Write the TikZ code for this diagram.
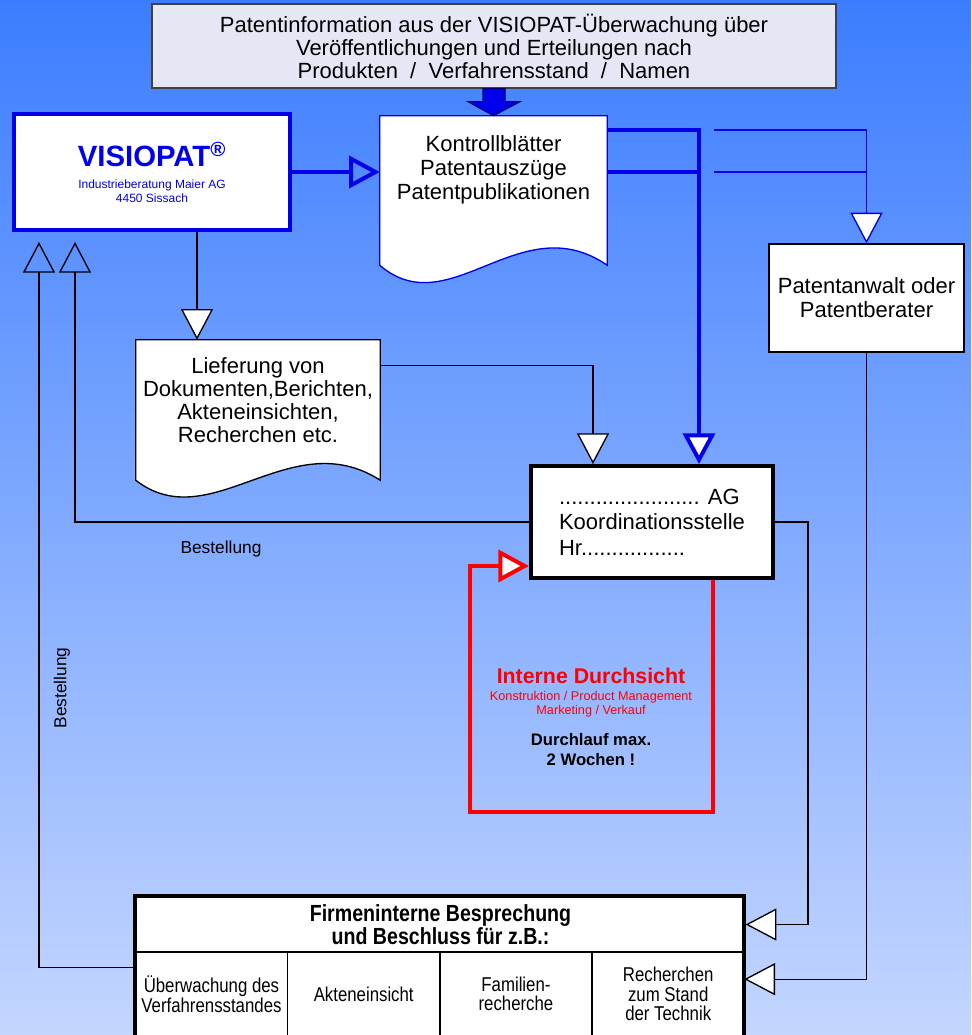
\documentclass[tikz,border=0pt]{standalone}
\usepackage{fontspec}
\setmainfont{Liberation Sans}
\newfontfamily\narrowfont[FakeStretch=0.84]{Liberation Sans}
\usetikzlibrary{arrows.meta,calc,positioning}

\definecolor{skytop}{RGB}{60,125,255}
\definecolor{skybottom}{RGB}{196,214,255}
\definecolor{visioblue}{RGB}{0,0,235}
\definecolor{infofill}{RGB}{230,231,244}
\definecolor{alarmred}{RGB}{255,0,0}

\tikzset{
  wh/.style 2 args={minimum width=#1*0.75pt, minimum height=#2*0.75pt},
  txt/.style={font=\fontsize{16.5}{18}\selectfont, align=center, inner sep=0pt},
  plainbox/.style={draw, fill=white, line width=1pt, inner sep=0pt},
  paper/.style={draw, fill=white, line width=1pt},
}

\begin{document}
\begin{tikzpicture}
  [x=0.75pt,y=-0.75pt,
   thin line/.style={line width=1pt},
   thick blue/.style={line width=3pt, visioblue},
   open head/.style={-{Triangle[open,length=23pt,width=24pt]}},
   white head/.style={-{Triangle[fill=white,length=23pt,width=24pt]}}]
  \useasboundingbox (0,0) rectangle (971,1035);
  \shade[top color=skytop, bottom color=skybottom] (0,0) rectangle (971,1035);

  % boxes
  \node[plainbox, txt, fill=infofill, draw=black!75, wh={684}{84},
        font=\fontsize{16.5}{17.25}\selectfont] (info) at (494,46)
    {Patentinformation aus der VISIOPAT-Überwachung über\\
     Veröffentlichungen und Erteilungen nach\\
     Produkten~~/~~Verfahrensstand~~/~~Namen};
  \node[plainbox, draw=visioblue, line width=3pt, align=center, wh={276}{116},
        text=visioblue, font=\fontsize{9}{10.5}\selectfont] (visio) at (152,172)
    {{\fontsize{22}{22}\selectfont\bfseries VISIOPAT\textsuperscript{\textregistered}}\\[6pt]
     Industrieberatung Maier AG\\4450 Sissach};

  \node[wh={227}{149}] (kontroll) at (493.5,190.5) {};
  \draw[paper, draw=visioblue] (kontroll.south west) -- (kontroll.north west)
    -- (kontroll.north east) -- (kontroll.south east)
    .. controls +(-87,-60) and +(70,60) .. (kontroll.south west) -- cycle;
  \node[txt, below=15pt of kontroll.north] (kontrolltext)
    {Kontrollblätter\\Patentauszüge\\Patentpublikationen};

  \node[plainbox, txt, wh={195}{108}] (anwalt) at (866.5,298)
    {Patentanwalt oder\\Patentberater};

  \node[wh={244}{140}] (liefer) at (258,410) {};
  \draw[paper] (liefer.south west) -- (liefer.north west)
    -- (liefer.north east) -- (liefer.south east)
    .. controls +(-90,-58) and +(75,58) .. (liefer.south west) -- cycle;
  \node[txt, font=\fontsize{16.5}{17.25}\selectfont, below=13pt of liefer.north] (liefertext)
    {Lieferung von\\Dokumenten,Berichten,\\Akteneinsichten,\\Recherchen etc.};

  \node[plainbox, txt, align=left, line width=3pt, wh={242}{112},
        font=\fontsize{16.5}{19}\selectfont] (ag) at (652,522)
    {....................... AG\\Koordinationsstelle\\Hr.................};

  % Firmeninterne Besprechung
  \node[plainbox, txt, wh={609}{55}, font=\narrowfont\bfseries\fontsize{17.5}{15.75}\selectfont]
    (firm) at (440.5,924.5) {Firmeninterne Besprechung\\und Beschluss für z.B.:};
  \tikzset{cell/.style={plainbox, txt, outer sep=0pt, wh={152.25}{83},
           font=\narrowfont\fontsize{15}{14.5}\selectfont}}
  \node[cell, anchor=north west] (c1) at (firm.south west) {Überwachung des\\Verfahrensstandes};
  \node[cell, right=0pt of c1] (c2) {Akteneinsicht};
  \node[cell, right=0pt of c2] (c3) {Familien-\\recherche};
  \node[cell, right=0pt of c3] (c4) {Recherchen\\zum Stand\\der Technik};
  \draw[line width=3pt] (firm.north west) rectangle ($(c4.south east)+(0,8)$);

  % blue flow
  \filldraw[fill=visioblue, draw=blue!40!black, line width=0.8pt]
    ($(info.south)+(-11,0)$) -- ($(info.south)+(-11,13)$) -- ($(info.south)+(-26,13)$)
    -- (kontroll.north) -- ($(info.south)+(26,13)$) -- ($(info.south)+(11,13)$)
    -- ($(info.south)+(11,0)$) -- cycle;
  \draw[thick blue, open head] (visio.east) -- (visio.east -| kontroll.west);
  \coordinate (split) at (699,130);
  \coordinate (k2) at ($(kontroll.north east)+(0,56)$);
  \draw[thick blue, white head] ($(kontroll.north east)+(0,14)$) -| (split |- ag.north);
  \draw[thick blue] (k2) -- (k2 -| split);
  \coordinate (t1) at ($(split)+(15,0)$);
  \coordinate (t2) at ($(t1)+(0,42)$);
  \draw[thin line, visioblue, white head] (t1) -| (anwalt.north);
  \draw[thin line, visioblue] (t2) -- (t2 -| anwalt.north);

  % black flow
  \coordinate (vdown) at ($(visio.south)+(45,0)$);
  \draw[thin line, white head] (vdown) -- (vdown |- liefer.north);
  \draw[thin line, white head] ($(liefer.north east)+(0,26)$) -| ($(ag.north)+(-59,0)$);
  \coordinate (up1) at (39,242);
  \coordinate (up2) at (75,242);
  \draw[thin line, open head] (ag.west) -| (up2);
  \draw[thin line, open head] ($(c1.west)+(0,-27)$) -| (up1);
  \draw[thin line, white head] (ag.east) -- ++(33,0) |- (firm.east);
  \draw[thin line, white head] (anwalt.south) |- ($(c4.east)+(0,-15)$);

  \node[font=\fontsize{13}{15}\selectfont] (best1) at (221,549) {Bestellung};
  \node[font=\fontsize{13}{15}\selectfont, rotate=90] (best2) at (62,688) {Bestellung};

  % interne Durchsicht
  \coordinate (loop) at (470,812);
  \draw[line width=3pt, alarmred, white head] ($(ag.south)+(61,0)$) |- (loop)
    |- ($(ag.west)+(0,44)$);
  \node[font=\fontsize{16}{18}\selectfont\bfseries, text=alarmred] (intern) at (591,676)
    {Interne Durchsicht};
  \node[txt, font=\fontsize{9.5}{10.5}\selectfont, text=alarmred, below=2pt of intern] (depts)
    {Konstruktion / Product Management\\Marketing / Verkauf};
  \node[txt, font=\fontsize{12.5}{15}\selectfont\bfseries, below=12pt of depts] (durchlauf)
    {Durchlauf max.\\2 Wochen !};
\end{tikzpicture}
\end{document}
